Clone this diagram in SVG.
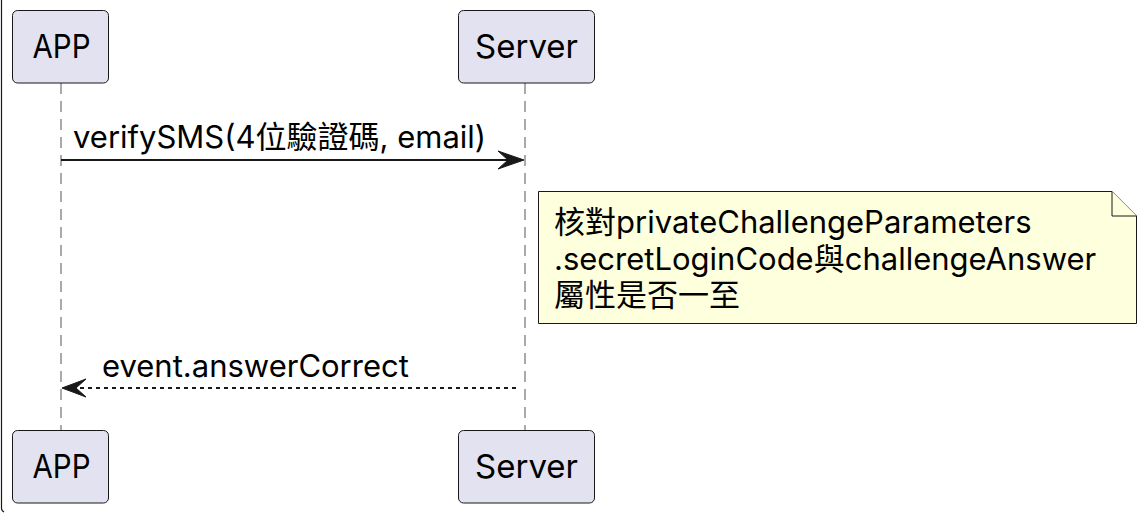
<svg xmlns="http://www.w3.org/2000/svg" width="1148" height="514" viewBox="0 0 1148 514">
<style>
text{font-family:Inter,"Noto Sans CJK TC",sans-serif;fill:#000}
.part rect{fill:#E2E2F0;stroke:#181818;stroke-width:1}
.part text{font-size:33px;text-anchor:middle}
.life{stroke:#555;stroke-width:1;stroke-dasharray:11,7}
.msg{font-size:31px}
.note path{fill:#FEFFDD;stroke:#181818;stroke-width:1}
.note text{font-size:31px}
</style>
<rect width="1148" height="514" fill="#fff"/>
<path d="M1.5,0 V508 Q1.5,511 4,512" fill="none" stroke="#181818" stroke-width="1.2"/>
<g id="lifelines">
<line class="life" x1="61" y1="83" x2="61" y2="430"/>
<line class="life" x1="525" y1="83" x2="525" y2="430"/>
</g>
<g id="app-top" class="part"><rect x="12.5" y="10.5" width="96" height="72.5" rx="5"/><text x="61.5" y="58" textLength="58" lengthAdjust="spacingAndGlyphs">APP</text></g>
<g id="server-top" class="part"><rect x="458.5" y="10.5" width="136" height="72.5" rx="5"/><text x="526.5" y="58">Server</text></g>
<g id="app-bottom" class="part"><rect x="12.5" y="430.5" width="96" height="72.5" rx="5"/><text x="61.5" y="478" textLength="58" lengthAdjust="spacingAndGlyphs">APP</text></g>
<g id="server-bottom" class="part"><rect x="458.5" y="430.5" width="136" height="72.5" rx="5"/><text x="526.5" y="478">Server</text></g>
<g id="note1" class="note">
<path d="M538.5,191.5 H1112 L1136.5,216 V323.5 H538.5 Z"/>
<path d="M1112,191.5 V216 H1136.5" fill="none"/>
<text x="554" y="233">核對privateChallengeParameters</text>
<text x="554" y="270">.secretLoginCode與challengeAnswer</text>
<text x="554" y="306">屬性是否一至</text>
</g>
<g id="connectors">
<line x1="61" y1="160" x2="516" y2="160" stroke="#181818" stroke-width="2"/>
<polygon points="524,160 498,151 508,160 498,169" fill="#181818" stroke="#181818" stroke-width="1"/>
<text class="msg" x="73" y="148">verifySMS(4位驗證碼, email)</text>
<line x1="72" y1="388" x2="520" y2="388" stroke="#181818" stroke-width="2" stroke-dasharray="4,4"/>
<polygon points="62,388 86,379 76,388 86,397" fill="#181818" stroke="#181818" stroke-width="1"/>
<text class="msg" x="102" y="377">event.answerCorrect</text>
</g>
</svg>
